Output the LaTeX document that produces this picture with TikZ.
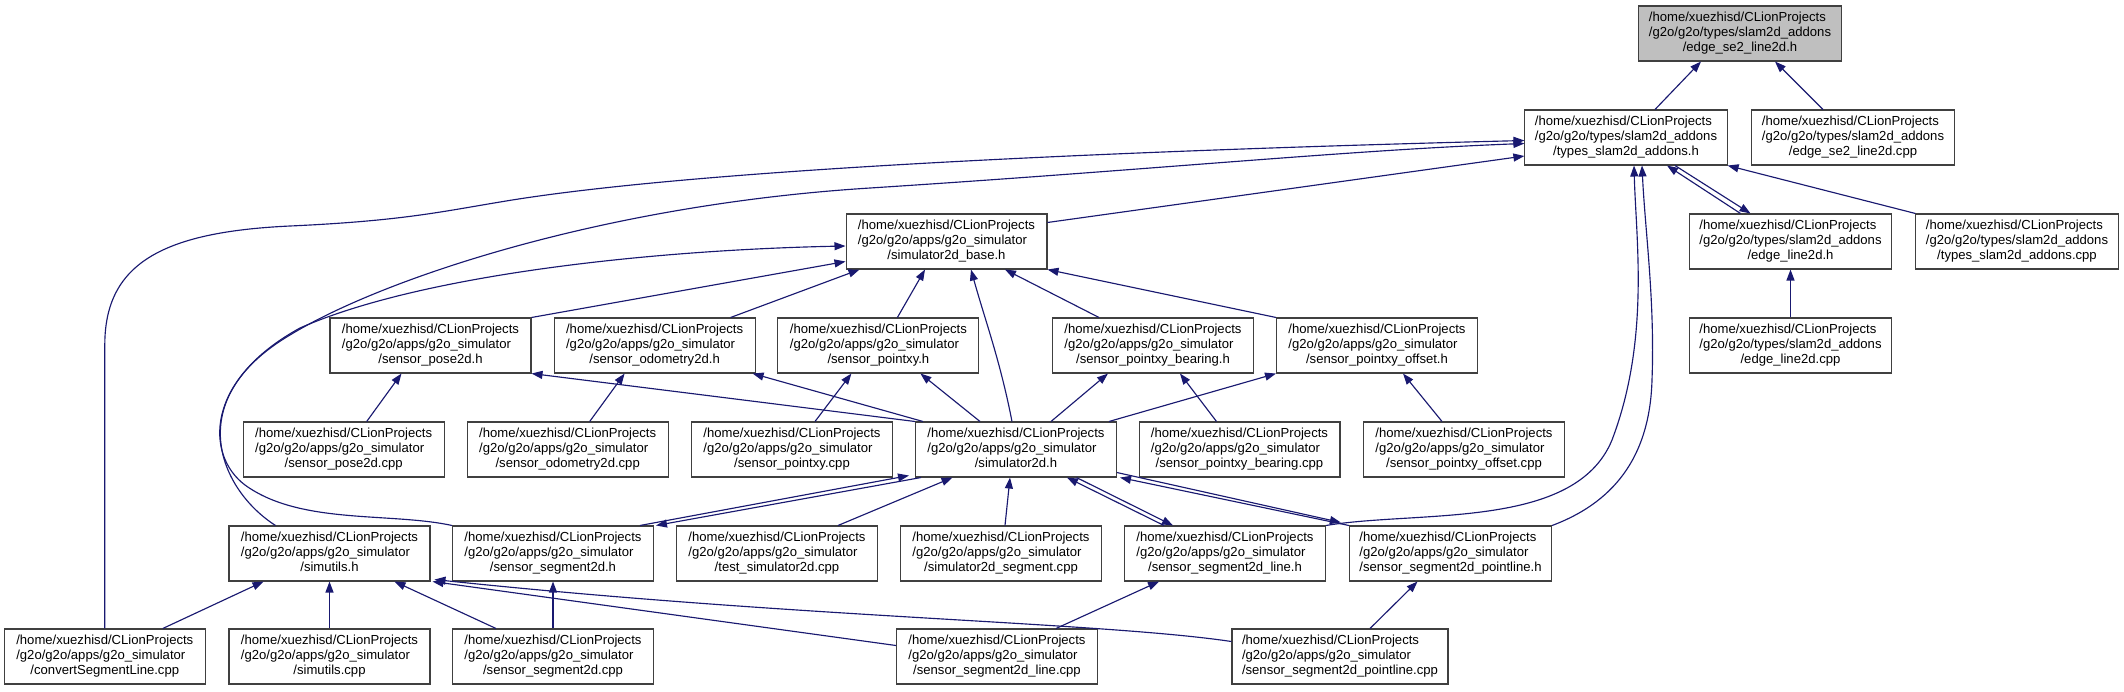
\documentclass[tikz,border=0pt]{standalone}
\usepackage{fontspec}
\setmainfont{Liberation Sans}
\usepackage{tikz}
\usetikzlibrary{arrows.meta, calc}
\definecolor{edgeblue}{RGB}{25,25,112}
\definecolor{focusgray}{RGB}{191,191,191}
\newcommand{\fpath}[2]{\begin{tabular}{@{}l@{}}/home/xuezhisd/CLionProjects\\#1\\\multicolumn{1}{@{}c@{}}{#2}\end{tabular}}
\newcommand{\appsfile}[1]{\fpath{/g2o/g2o/apps/g2o\_simulator}{/#1}}
\newcommand{\typesfile}[1]{\fpath{/g2o/g2o/types/slam2d\_addons}{/#1}}

\begin{document}
\begin{tikzpicture}[
    x=0.02cm, y=-0.02cm,
    file/.style={rectangle, draw=black!75, line width=0.6pt, fill=white, minimum width=4.02cm, minimum height=1.1cm, inner xsep=0.2cm, inner ysep=0pt, font=\fontsize{7.46}{8.54}\selectfont},
    incl/.style={-{Triangle[length=0.22cm, width=0.16cm]}, edgeblue, line width=0.65pt},
]
    \useasboundingbox (0,0) rectangle (2124,691);

    \node[file, fill=focusgray] (se2h) at (1740,33.5) {\typesfile{edge\_se2\_line2d.h}};
    \node[file] (typesh) at (1626,137.5) {\typesfile{types\_slam2d\_addons.h}};
    \node[file] (se2cpp) at (1853,137.5) {\typesfile{edge\_se2\_line2d.cpp}};
    \node[file] (simbase) at (946.5,241.5) {\appsfile{simulator2d\_base.h}};
    \node[file] (edgeh) at (1790.5,241.5) {\typesfile{edge\_line2d.h}};
    \node[file] (typescpp) at (2017,241.5) {\typesfile{types\_slam2d\_addons.cpp}};
    \node[file] (poseh) at (430.5,345.5) {\appsfile{sensor\_pose2d.h}};
    \node[file] (odomh) at (654.6,345.5) {\appsfile{sensor\_odometry2d.h}};
    \node[file] (pxyh) at (878.4,345.5) {\appsfile{sensor\_pointxy.h}};
    \node[file] (bearh) at (1153,345.5) {\appsfile{sensor\_pointxy\_bearing.h}};
    \node[file] (offh) at (1377,345.5) {\appsfile{sensor\_pointxy\_offset.h}};
    \node[file] (edgecpp) at (1790.5,345.5) {\typesfile{edge\_line2d.cpp}};
    \node[file] (posecpp) at (343.7,449.5) {\appsfile{sensor\_pose2d.cpp}};
    \node[file] (odomcpp) at (567.7,449.5) {\appsfile{sensor\_odometry2d.cpp}};
    \node[file] (pxycpp) at (792,449.5) {\appsfile{sensor\_pointxy.cpp}};
    \node[file] (simh) at (1016,449.5) {\appsfile{simulator2d.h}};
    \node[file] (bearcpp) at (1239.5,449.5) {\appsfile{sensor\_pointxy\_bearing.cpp}};
    \node[file] (offcpp) at (1464,449.5) {\appsfile{sensor\_pointxy\_offset.cpp}};
    \node[file] (utilh) at (329.5,553.5) {\appsfile{simutils.h}};
    \node[file] (segh) at (553,553.5) {\appsfile{sensor\_segment2d.h}};
    \node[file] (testcpp) at (777,553.5) {\appsfile{test\_simulator2d.cpp}};
    \node[file] (segmcpp) at (1001,553.5) {\appsfile{simulator2d\_segment.cpp}};
    \node[file] (lineh) at (1225,553.5) {\appsfile{sensor\_segment2d\_line.h}};
    \node[file] (plineh) at (1450.5,553.5) {\appsfile{sensor\_segment2d\_pointline.h}};
    \node[file] (convcpp) at (104.8,656.5) {\appsfile{convertSegmentLine.cpp}};
    \node[file] (utilcpp) at (329.5,656.5) {\appsfile{simutils.cpp}};
    \node[file] (segcpp) at (553,656.5) {\appsfile{sensor\_segment2d.cpp}};
    \node[file] (linecpp) at (997,656.5) {\appsfile{sensor\_segment2d\_line.cpp}};
    \node[file] (plinecpp) at (1340,656.5) {\appsfile{sensor\_segment2d\_pointline.cpp}};

    \draw[incl] ($(typesh.north)+(29,0)$) -- ($(se2h.south)+(-39,0)$);
    \draw[incl] ($(se2cpp.north)+(-30,0)$) -- ($(se2h.south)+(35,0)$);
    \draw[incl] ($(simbase.north east)+(0,9)$) -- ($(typesh.west)+(0,18.5)$);
    \draw[incl] ($(edgeh.north)+(-50,0)$) -- ($(typesh.south)+(41,0)$);
    \draw[incl] ($(typesh.south)+(49,0)$) -- ($(edgeh.north)+(-40,0)$);
    \draw[incl] (typescpp.north west) -- (typesh.south east);
    \draw[incl] (lineh.north east) .. controls (1420,510) and (1575,530) .. (1612,440) .. controls (1650,340) and (1636,240) .. ($(typesh.south)+(8,0)$);
    \draw[incl] (plineh.north east) .. controls (1620,500) and (1650,450) .. (1652,380) .. controls (1655,300) and (1645,230) .. ($(typesh.south)+(16,0)$);
    \draw[incl] (convcpp.north) -- (104.8,345) .. controls (104.8,265) and (160,232) .. (290,226) .. controls (400,221) and (440,212) .. (500,202) .. controls (700,168) and (1150,150) .. ($(typesh.west)+(0,3)$);
    \draw[incl] ($(utilh.north)+(-54,0)$) .. controls (220,490) and (180,400) .. (290,335) .. controls (380,280) and (600,205) .. (870,188) .. controls (1150,170) and (1350,150) .. ($(typesh.west)+(0,6)$);
    \draw[incl] (segh.north west) .. controls (390,512) and (300,525) .. (245,485) .. controls (205,455) and (205,380) .. (300,328) .. controls (420,275) and (650,250) .. ($(simbase.west)+(0,4.5)$);

    \draw[incl] (poseh.north east) -- ($(simbase.west)+(0,20)$);
    \draw[incl] ($(odomh.north)+(76,0)$) -- ($(simbase.south west)+(14,0)$);
    \draw[incl] ($(pxyh.north)+(19,0)$) -- ($(simbase.south)+(-21.5,0)$);
    \draw[incl] ($(simh.north)+(-4,0)$) .. controls (1000,360) and (985,320) .. ($(simbase.south)+(24.5,0)$);
    \draw[incl] ($(bearh.north)+(-54,0)$) -- ($(simbase.south)+(58.5,0)$);
    \draw[incl] (offh.north west) -- (simbase.south east);

    \draw[incl] (simh.north west) -- (poseh.south east);
    \draw[incl] ($(simh.north west)+(8,0)$) -- ($(odomh.south east)+(-3,0)$);
    \draw[incl] ($(simh.north)+(-36,0)$) -- ($(pxyh.south)+(42,0)$);
    \draw[incl] ($(simh.north)+(35,0)$) -- ($(bearh.south)+(-45,0)$);
    \draw[incl] ($(simh.north east)+(-8,0)$) -- (offh.south west);

    \draw[incl] ($(posecpp.north)+(23,0)$) -- ($(poseh.south)+(-29,0)$);
    \draw[incl] ($(odomcpp.north)+(22,0)$) -- ($(odomh.south)+(-30,0)$);
    \draw[incl] ($(pxycpp.north)+(23,0)$) -- ($(pxyh.south)+(-27,0)$);
    \draw[incl] ($(bearcpp.north)+(-23,0)$) -- ($(bearh.south)+(27,0)$);
    \draw[incl] ($(offcpp.north)+(-22,0)$) -- ($(offh.south)+(26,0)$);
    \draw[incl] (edgecpp) -- (edgeh);

    \draw[incl] ($(segh.north east)+(-14,0)$) -- ($(simh.south west)+(-6,-2)$);
    \draw[incl] ($(simh.south west)+(6,0)$) -- ($(segh.north east)+(2,0)$);
    \draw[incl] ($(testcpp.north)+(61,0)$) -- ($(simh.south)+(-63.5,0)$);
    \draw[incl] ($(segmcpp.north)+(4,0)$) -- ($(simh.south)+(-6,0)$);
    \draw[incl] ($(lineh.north)+(-61,0)$) -- ($(simh.south)+(51,0)$);
    \draw[incl] ($(simh.south)+(60.5,0)$) -- ($(lineh.north)+(-52,0)$);
    \draw[incl] (plineh.north west) -- ($(simh.south east)+(3,0)$);
    \draw[incl] ($(simh.south east)+(0,-5)$) -- ($(plineh.north west)+(-8,-3)$);

    \draw[incl] ($(convcpp.north)+(58,0)$) -- ($(utilh.south)+(-66,0)$);
    \draw[incl] (utilcpp) -- (utilh);
    \draw[incl] ($(segcpp.north)+(-57,0)$) -- ($(utilh.south)+(65,0)$);
    \draw[incl] (segcpp) -- (segh);
    \draw[incl] ($(linecpp.west)+(0,-11)$) -- ($(utilh.south east)+(2,0)$);
    \draw[incl] ($(plinecpp.west)+(0,-15)$) .. controls (1100,622) and (800,618) .. ($(utilh.south east)+(4,-2)$);
    \draw[incl] ($(linecpp.north)+(59,0)$) -- ($(lineh.south)+(-66,0)$);
    \draw[incl] ($(plinecpp.north)+(30,0)$) -- ($(plineh.south)+(-33,0)$);
\end{tikzpicture}
\end{document}
